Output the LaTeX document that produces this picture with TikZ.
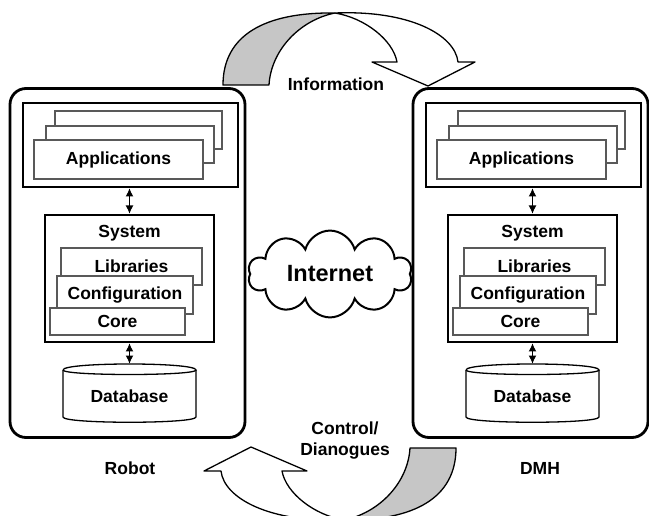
\documentclass[tikz,border=0pt]{standalone}
\usepackage{fontspec}
\setmainfont{Liberation Sans}
\usetikzlibrary{arrows.meta,shapes.symbols}

\begin{document}
\begin{tikzpicture}[x=1pt,y=-1pt,
    lbl/.style={font=\fontsize{17.5}{21}\selectfont\bfseries},
    frame/.style={draw,line width=2.8pt,rounded corners=16pt,minimum width=235pt,minimum height=349pt},
    group/.style={draw,line width=2pt,inner sep=0pt},
    layer/.style={draw=gray!70!black,line width=1.2pt,fill=white,inner sep=0pt,lbl},
    link/.style={{Latex[length=8.5pt,width=8pt]}-{Latex[length=8.5pt,width=8pt]},line width=1.6pt},
    ribbon/.style={draw,line width=1.3pt,line join=round}]

    \useasboundingbox (0,0) rectangle (649,516);
    \fill[white] (0,0) rectangle (649,516);

    % robot and DMH columns
    \foreach \s/\dx in {rob/0,dmh/403}{
    \begin{scope}[xshift=\dx pt]
        \node[frame] (\s-frame) at (127.5,263) {};
        \node[group,minimum width=215pt,minimum height=84pt] (\s-apps) at (130.5,145) {};
        \node[layer,minimum width=167pt,minimum height=38pt] (\s-app3) at (138.5,130) {};
        \node[layer,minimum width=168pt,minimum height=37pt] (\s-app2) at (130,144.5) {};
        \node[layer,minimum width=169pt,minimum height=39pt] (\s-app1) at (118.5,159.5) {Applications};

        \node[group,minimum width=169pt,minimum height=127pt] (\s-sys) at (129.5,278.5) {};
        \node[lbl] (\s-systitle) at (129.5,233) {System};
        \node[layer,minimum width=141pt,minimum height=37pt] (\s-lib) at (131.5,266.5) {Libraries};
        \node[layer,minimum width=136pt,minimum height=38pt] (\s-conf) at (125,295) {Configuration};
        \node[layer,minimum width=135pt,minimum height=27pt] (\s-core) at (117.5,321.5) {Core};

        \draw[line width=1.3pt,fill=white] (63,370) -- (63,417) .. controls (63,424) and (196,424) .. (196,417) -- (196,370);
        \draw[line width=1.3pt] (63,370) .. controls (63,362) and (196,362) .. (196,370) .. controls (196,376) and (63,376) .. (63,370);
        \coordinate (\s-dbtop) at (129.5,364);
        \node[lbl] (\s-db) at (129.5,396) {Database};

        \draw[link] (\s-sys.north |- \s-apps.south) -- (\s-sys.north);
        \draw[link] (\s-sys.south) -- (\s-dbtop);
    \end{scope}
    }

    \node[lbl] (robot) at (130,468) {Robot};
    \node[lbl] (dmh) at (540,468) {DMH};

    \node[cloud,draw,line width=2pt,cloud puffs=10,aspect=2,minimum width=164pt,minimum height=82pt,
        inner sep=0pt,fill=white,font=\fontsize{23.5}{28}\selectfont\bfseries] (net) at (330,274) {Internet};

    % twisted arrows, the lower one turned half round
    \foreach \r in {0,180}{
    \begin{scope}[rotate around={\r:(339.5,266.5)}]
        \path[ribbon,fill=gray!45] (223,85) .. controls (223,35) and (265,12) .. (335,13)
            .. controls (300,20) and (271,50) .. (269,85) -- cycle;
        \path[ribbon,fill=white] (335,13) .. controls (410,10) and (455,35) .. (458,62)
            -- (475,62) -- (428,86) -- (372,62) -- (397,62)
            .. controls (393,40) and (365,18) .. (335,13) -- cycle;
    \end{scope}
    }

    \node[lbl] (info) at (336,84) {Information};
    \node[lbl,align=center] (ctrl) at (345,440.5) {Control/\\Dianogues};
\end{tikzpicture}
\end{document}
